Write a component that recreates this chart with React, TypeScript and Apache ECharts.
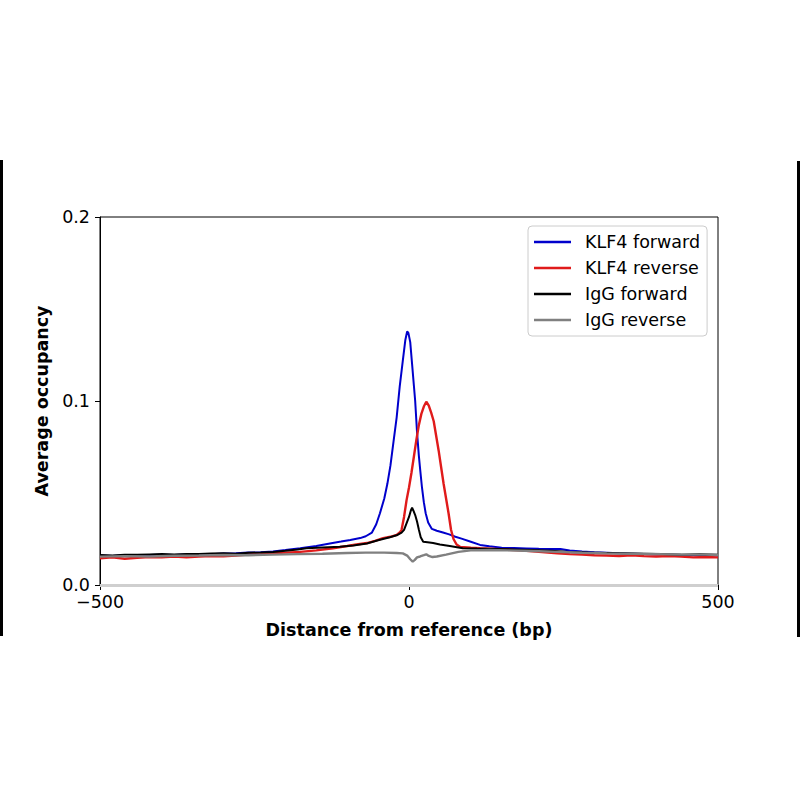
import React, { useEffect, useRef } from 'react';
import * as echarts from 'echarts';
import type { EChartsType } from 'echarts';

// [distance (bp), average occupancy]
const klf4Forward: [number, number][] = [
  [-500, 0.016], [-480, 0.0158], [-460, 0.0162], [-440, 0.016], [-420, 0.0163],
  [-400, 0.0165], [-380, 0.0163], [-360, 0.0166], [-340, 0.0168], [-320, 0.0167],
  [-300, 0.0171], [-280, 0.0172], [-260, 0.0176], [-240, 0.0178], [-220, 0.0182],
  [-200, 0.019], [-176, 0.02], [-150, 0.0212], [-128, 0.0226], [-110, 0.0236],
  [-95, 0.0245], [-79, 0.0255], [-70, 0.0265], [-60, 0.0285], [-53, 0.033],
  [-47, 0.039], [-40, 0.047], [-35, 0.055], [-30, 0.065], [-25, 0.078],
  [-20, 0.091], [-15, 0.108], [-10, 0.122], [-6, 0.133], [-3, 0.1378],
  [-1, 0.137], [2, 0.132], [5, 0.12], [8, 0.108], [10, 0.1], [13, 0.083],
  [16, 0.07], [18, 0.063], [21, 0.053], [24, 0.045], [27, 0.039], [31, 0.034],
  [37, 0.0305], [45, 0.0295], [55, 0.0285], [65, 0.0275], [75, 0.0262],
  [85, 0.0252], [100, 0.0235], [115, 0.0218], [130, 0.021], [150, 0.0202],
  [170, 0.0201], [190, 0.0199], [210, 0.0197], [230, 0.0196], [245, 0.0196],
  [260, 0.0188], [280, 0.0182], [300, 0.0178], [320, 0.0175], [340, 0.0172],
  [360, 0.017], [380, 0.0168], [400, 0.0166], [420, 0.0165], [440, 0.0163],
  [460, 0.0162], [480, 0.0161], [500, 0.016],
];

const klf4Reverse: [number, number][] = [
  [-500, 0.0145], [-480, 0.015], [-460, 0.0143], [-440, 0.0148], [-420, 0.0152],
  [-400, 0.015], [-380, 0.0154], [-360, 0.0151], [-340, 0.0155], [-320, 0.0157],
  [-300, 0.0156], [-280, 0.016], [-260, 0.0165], [-240, 0.0168], [-220, 0.0172],
  [-200, 0.0176], [-176, 0.018], [-150, 0.0188], [-123, 0.02], [-100, 0.0212],
  [-85, 0.022], [-68, 0.0228], [-55, 0.024], [-42, 0.0255], [-30, 0.0262],
  [-20, 0.0272], [-15, 0.0285], [-12, 0.03], [-8, 0.037], [-4, 0.046],
  [0, 0.053], [4, 0.061], [8, 0.07], [12, 0.079], [16, 0.087], [20, 0.093],
  [24, 0.097], [28, 0.0996], [32, 0.0975], [36, 0.0935], [40, 0.089],
  [44, 0.081], [48, 0.073], [52, 0.064], [56, 0.055], [60, 0.047], [64, 0.039],
  [68, 0.03], [72, 0.025], [77, 0.022], [83, 0.0207], [100, 0.0203],
  [115, 0.02], [140, 0.0196], [160, 0.0192], [180, 0.0188], [200, 0.0183],
  [220, 0.0178], [240, 0.0172], [260, 0.0168], [280, 0.0165], [300, 0.0162],
  [320, 0.016], [340, 0.0158], [360, 0.0161], [380, 0.0157], [400, 0.0155],
  [420, 0.0158], [440, 0.0154], [460, 0.015], [480, 0.0152], [500, 0.015],
];

const iggForward: [number, number][] = [
  [-500, 0.0163], [-480, 0.016], [-460, 0.0165], [-440, 0.0164], [-420, 0.0166],
  [-400, 0.0168], [-380, 0.0166], [-360, 0.0169], [-340, 0.0168], [-320, 0.0171],
  [-300, 0.0172], [-280, 0.017], [-260, 0.0175], [-240, 0.0177], [-220, 0.018],
  [-200, 0.0186], [-180, 0.0193], [-166, 0.02], [-140, 0.0204], [-112, 0.0208],
  [-90, 0.0215], [-68, 0.0226], [-50, 0.0243], [-31, 0.026], [-20, 0.027],
  [-12, 0.0285], [-8, 0.03], [-4, 0.0335], [0, 0.037], [3, 0.0405], [5, 0.042],
  [7, 0.0405], [10, 0.038], [13, 0.0345], [16, 0.03], [19, 0.026], [23, 0.0235],
  [30, 0.0232], [39, 0.0228], [50, 0.022], [66, 0.0212], [87, 0.02],
  [110, 0.0198], [140, 0.0196], [170, 0.0193], [200, 0.019], [230, 0.0186],
  [260, 0.018], [290, 0.0176], [320, 0.0174], [350, 0.0172], [380, 0.017],
  [410, 0.0168], [440, 0.0165], [470, 0.0167], [500, 0.0164],
];

const iggReverse: [number, number][] = [
  [-500, 0.0154], [-460, 0.0157], [-420, 0.0155], [-380, 0.0159], [-340, 0.016],
  [-300, 0.0163], [-260, 0.0162], [-220, 0.0165], [-180, 0.0168], [-140, 0.017],
  [-100, 0.0174], [-70, 0.0176], [-40, 0.0176], [-20, 0.0174], [-10, 0.0172],
  [-3, 0.016], [2, 0.014], [6, 0.0127], [9, 0.0135], [13, 0.015], [18, 0.0155],
  [24, 0.0162], [28, 0.0167], [32, 0.0158], [38, 0.0152], [45, 0.0155],
  [60, 0.0165], [80, 0.018], [100, 0.0188], [130, 0.019], [160, 0.0188],
  [200, 0.0185], [240, 0.018], [280, 0.0175], [320, 0.0172], [360, 0.017],
  [400, 0.0168], [440, 0.0166], [480, 0.0165], [500, 0.0163],
];

const seriesNames = ['KLF4 forward', 'KLF4 reverse', 'IgG forward', 'IgG reverse'];
const seriesColors = ['#0000cc', '#e01b1b', '#000000', '#808080'];
const baselineLevel = 0.0013;

const font = 'DejaVu Sans';
const fontSize = 17.5;

const App = () => {
  const chartRef = useRef<HTMLDivElement>(null);

  useEffect(() => {
    let chartInstance: EChartsType | null = null;

    if (chartRef.current) {
      chartInstance = echarts.init(chartRef.current, undefined, { renderer: 'svg' });

      const allData = [klf4Forward, klf4Reverse, iggForward, iggReverse];

      const option = {
        animation: false,
        backgroundColor: '#ffffff',
        grid: {
          left: 100,
          right: 82,
          top: 217,
          bottom: 215,
          show: true,
          borderColor: '#000',
          borderWidth: 1,
        },
        legend: {
          orient: 'vertical',
          left: 528,
          top: 226,
          data: seriesNames.map((name) => ({ name, icon: 'rect' })),
          itemWidth: 37,
          itemHeight: 2.5,
          itemGap: 6,
          padding: [6, 7, 6, 6],
          borderColor: '#cccccc',
          borderWidth: 1,
          borderRadius: 4,
          backgroundColor: 'rgba(255,255,255,0.8)',
          itemStyle: { borderWidth: 0 },
          lineStyle: { width: 0 },
          textStyle: {
            fontFamily: font,
            fontSize,
            color: '#000',
            lineHeight: 20,
            padding: [0, 0, 0, 9],
          },
        },
        xAxis: {
          type: 'value',
          min: -500,
          max: 500,
          interval: 500,
          name: 'Distance from reference (bp)',
          nameLocation: 'middle',
          nameGap: 36,
          nameTextStyle: { fontFamily: font, fontSize, fontWeight: 'bold', color: '#000' },
          axisLine: { show: true, onZero: false, lineStyle: { color: '#000', width: 1 } },
          axisTick: { show: true, length: 5, lineStyle: { color: '#000' } },
          axisLabel: {
            fontFamily: font,
            fontSize,
            color: '#000',
            margin: 8,
            formatter: (v: number) => (v < 0 ? '\u2212' + Math.abs(v) : String(v)),
          },
          splitLine: { show: false },
        },
        yAxis: {
          type: 'value',
          min: 0,
          max: 0.2,
          interval: 0.1,
          name: 'Average occupancy',
          nameLocation: 'middle',
          nameGap: 45,
          nameRotate: 90,
          nameTextStyle: { fontFamily: font, fontSize, fontWeight: 'bold', color: '#000' },
          axisLine: { show: true, onZero: false, lineStyle: { color: '#000', width: 1 } },
          axisTick: { show: true, length: 5, lineStyle: { color: '#000' } },
          axisLabel: {
            fontFamily: font,
            fontSize,
            color: '#000',
            margin: 10,
            formatter: (v: number) => v.toFixed(1),
          },
          splitLine: { show: false },
        },
        series: seriesNames.map((name, i) => ({
          name,
          type: 'line',
          data: allData[i],
          symbol: 'none',
          color: seriesColors[i],
          lineStyle: { color: seriesColors[i], width: i === 1 || i === 3 ? 2.4 : 2 },
          ...(i === 3
            ? {
                markLine: {
                  silent: true,
                  symbol: ['none', 'none'],
                  label: { show: false },
                  lineStyle: { color: '#cfcfcf', width: 3, type: 'solid' },
                  data: [{ yAxis: baselineLevel }],
                },
              }
            : {}),
        })),
        graphic: [
          { type: 'rect', left: 0, top: 160, shape: { width: 3, height: 476 }, style: { fill: '#000' } },
          { type: 'rect', left: 797, top: 161, shape: { width: 3, height: 476 }, style: { fill: '#000' } },
        ],
      };

      chartInstance.setOption(option);
    }

    return () => {
      chartInstance?.dispose();
    };
  }, []);

  return (
    <div
      ref={chartRef}
      style={{ position: 'absolute', left: 0, top: 0, width: '800px', height: '800px' }}
    ></div>
  );
};

export default App;
